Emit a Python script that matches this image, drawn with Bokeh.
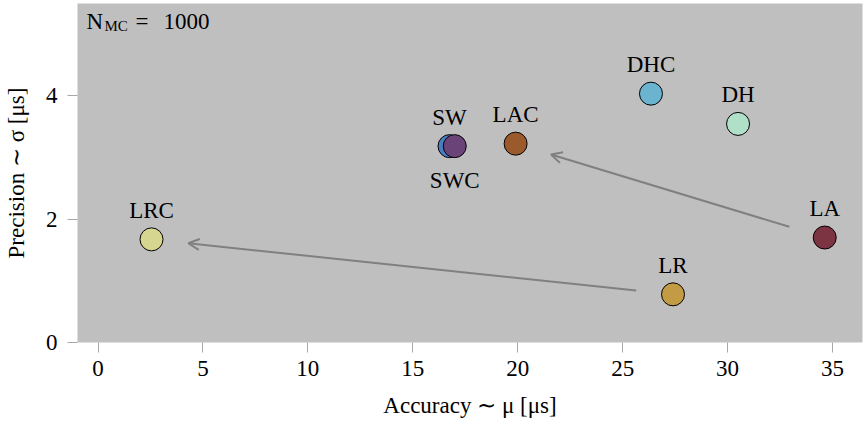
import math
from bokeh.plotting import figure
from bokeh.models import ColumnDataSource, Range1d, FixedTicker, Arrow, OpenHead
from bokeh.core.properties import value
from bokeh.embed import file_html
from bokeh.resources import INLINE

# Method results: accuracy (mean offset, us) and precision (std, us)
methods = ["LRC", "SW", "SWC", "LAC", "DHC", "DH", "LA", "LR"]
accuracy = [2.55, 16.75, 17.0, 19.9, 26.35, 30.5, 34.63, 27.4]
precision = [1.67, 3.18, 3.18, 3.22, 4.03, 3.54, 1.70, 0.78]
colors = ["#d6d690", "#4a7ec2", "#6a4478", "#9b5a2c", "#6ab4d0", "#b0e0c8", "#7d3442", "#c39b45"]
label_side = ["above", "above", "below", "above", "above", "above", "above", "above"]

# Improvement arrows (from, to)
arrows = [("LA", "LAC"), ("LR", "LRC")]

x_ticks = [0, 5, 10, 15, 20, 25, 30, 35]
y_ticks = [0, 2, 4]

FONT = "Liberation Serif"
FS = "23px"
W, H = 864, 426
BL, BR, BT, BB = 77, 2, 3, 84
X0, X1 = -0.977, 36.43
Y0, Y1 = 0.0, 5.49

p = figure(width=W, height=H, output_backend="svg", toolbar_location=None,
           x_range=Range1d(X0, X1), y_range=Range1d(Y0, Y1),
           min_border_left=BL, min_border_right=BR, min_border_top=BT, min_border_bottom=BB)
p.background_fill_color = "#bfbfbf"
p.border_fill_color = "white"
p.outline_line_color = None
p.xgrid.visible = False
p.ygrid.visible = False

for ax, ticks in ((p.xaxis[0], x_ticks), (p.yaxis[0], y_ticks)):
    ax.ticker = FixedTicker(ticks=ticks)
    ax.axis_line_color = None
    ax.major_tick_line_color = "#a8a8a8"
    ax.major_tick_line_width = 1
    ax.major_tick_out = 10
    ax.major_tick_in = 0
    ax.minor_tick_line_color = None
    ax.major_label_text_font = FONT
    ax.major_label_text_font_size = FS
    ax.major_label_text_color = "black"
    ax.axis_label_text_font = FONT
    ax.axis_label_text_font_size = FS
    ax.axis_label_text_font_style = "normal"
    ax.axis_label_text_color = "black"

p.xaxis.axis_label = "Accuracy ∼ μ [μs]"
p.yaxis.axis_label = "Precision ∼ σ [μs]"
p.xaxis.major_label_standoff = 8
p.yaxis.major_label_standoff = 10
p.xaxis.axis_label_standoff = 14
p.yaxis.axis_label_standoff = 14

# pixel scale of the frame, used to trim arrows back from the markers
fw = W - BL - BR
fh = H - BT - BB
sx = fw / (X1 - X0)
sy = fh / (Y1 - Y0)
pos = {m: (a, s) for m, a, s in zip(methods, accuracy, precision)}
shrink = 37.0
for a, b in arrows:
    (xa, ya), (xb, yb) = pos[a], pos[b]
    dxp, dyp = (xb - xa) * sx, (yb - ya) * sy
    L = math.hypot(dxp, dyp)
    ux, uy = dxp / L, dyp / L
    p.add_layout(Arrow(
        x_start=xa + ux * shrink / sx, y_start=ya + uy * shrink / sy,
        x_end=xb - ux * shrink / sx, y_end=yb - uy * shrink / sy,
        line_color="#808080", line_width=2,
        end=OpenHead(size=11, line_color="#808080", line_width=2)))

src = ColumnDataSource(dict(
    x=accuracy, y=precision, name=methods, color=colors,
    dy=[-29 if s == "above" else 34 for s in label_side],
))
p.scatter("x", "y", source=src, size=23, fill_color="color", line_color="black",
          line_width=1)
p.text("x", "y", text="name", source=src, y_offset="dy", text_align="center",
       text_baseline="alphabetic", text_font=value(FONT), text_font_size=FS,
       text_color="black")

# N_MC annotation in the top-left corner
p.text(x=[X0], y=[Y1], text=["N"], x_offset=9, y_offset=18, text_baseline="alphabetic",
       text_font=value(FONT), text_font_size=FS, text_color="black")
p.text(x=[X0], y=[Y1], text=["MC"], x_offset=27, y_offset=22, text_baseline="alphabetic",
       text_font=value(FONT), text_font_size="15px", text_color="black")
p.text(x=[X0], y=[Y1], text=["="], x_offset=58, y_offset=18, text_baseline="alphabetic",
       text_font=value(FONT), text_font_size=FS, text_color="black")
p.text(x=[X0], y=[Y1], text=["1000"], x_offset=86, y_offset=18, text_baseline="alphabetic",
       text_font=value(FONT), text_font_size=FS, text_color="black")

open("out.html", "w").write(file_html(p, INLINE))
